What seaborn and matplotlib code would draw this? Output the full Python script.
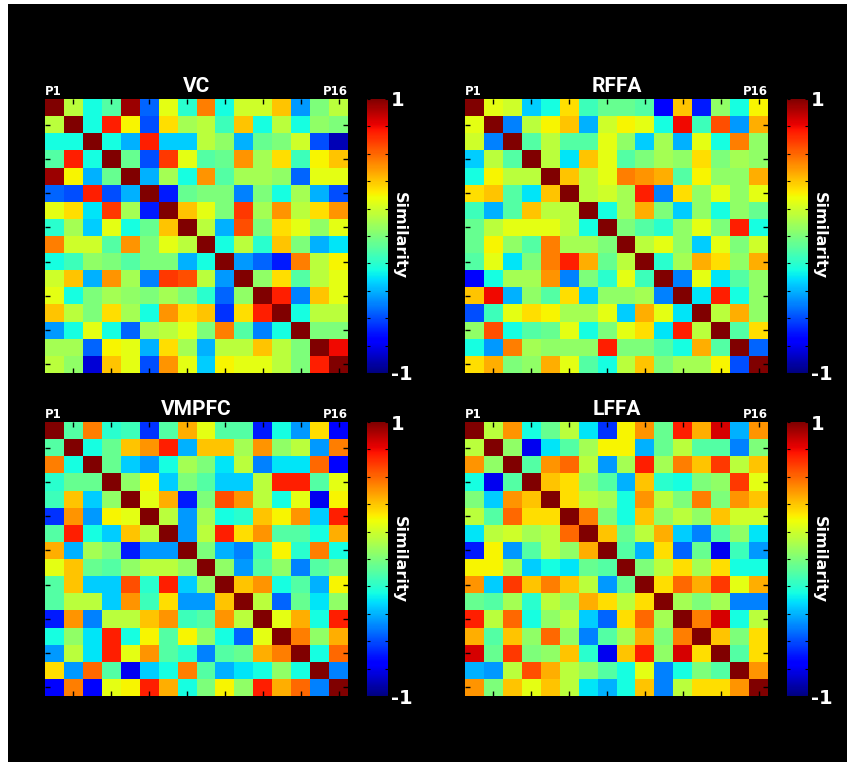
import numpy as np
import pandas as pd
import matplotlib
matplotlib.use("Agg")
import matplotlib.pyplot as plt
import seaborn as sns
from matplotlib.patches import Rectangle

participants = [f"P{i}" for i in range(1, 17)]
regions = ["VC", "RFFA", "VMPFC", "LFFA"]

vc = [
    [1, 0.15, -0.25, -0.1, 0.95, -0.55, 0.25, -0.2, 0.55, -0.25, 0.2, 0.2, 0.4, -0.45, 0.0, 0.15],
    [0.15, 1, -0.25, 0.75, 0.3, -0.6, 0.35, 0.1, 0.15, -0.15, 0.4, -0.25, 0.15, -0.25, 0.05, 0.0],
    [-0.25, -0.25, 1, -0.25, -0.4, 0.75, -0.35, -0.35, 0.15, 0.05, -0.4, -0.05, 0.0, 0.2, -0.6, -0.9],
    [-0.1, 0.75, -0.25, 1, -0.05, -0.6, 0.7, 0.25, -0.1, -0.05, 0.5, 0.1, 0.35, -0.15, 0.3, 0.4],
    [0.95, 0.3, -0.4, -0.05, 1, -0.4, 0.1, -0.25, 0.5, -0.1, 0.1, 0.1, 0.05, -0.55, 0.25, 0.25],
    [-0.55, -0.6, 0.75, -0.6, -0.4, 1, -0.7, -0.05, 0.0, 0.0, -0.5, 0.0, -0.25, 0.1, -0.4, -0.6],
    [0.25, 0.35, -0.3, 0.7, 0.1, -0.7, 1, 0.4, 0.25, 0.0, 0.7, 0.1, 0.5, 0.15, 0.35, 0.5],
    [-0.2, 0.1, -0.35, 0.25, -0.25, -0.05, 0.4, 1, 0.15, -0.4, 0.65, 0.0, 0.35, 0.25, 0.05, 0.25],
    [0.55, 0.2, 0.2, -0.1, 0.5, 0.0, 0.25, 0.15, 1, -0.25, 0.15, -0.2, 0.4, 0.0, -0.4, -0.3],
    [-0.25, -0.15, 0.05, 0.0, -0.1, 0.0, 0.0, -0.4, -0.25, 1, -0.45, -0.55, -0.7, 0.55, 0.15, 0.3],
    [0.2, 0.4, -0.4, 0.5, 0.1, -0.5, 0.7, 0.65, 0.15, -0.45, 1, 0.05, 0.35, -0.1, 0.15, 0.25],
    [0.25, -0.25, 0.0, 0.1, 0.05, 0.0, 0.1, 0.0, -0.2, -0.55, 0.05, 1, 0.75, -0.5, 0.4, 0.25],
    [0.4, 0.15, 0.0, 0.35, 0.1, -0.25, 0.5, 0.35, 0.4, -0.65, 0.35, 0.75, 1, -0.25, 0.15, 0.15],
    [-0.45, -0.25, 0.25, -0.25, -0.55, 0.1, 0.15, 0.25, 0.0, 0.55, -0.1, -0.5, -0.25, 1, 0.0, 0.0],
    [0.1, 0.1, -0.55, 0.3, 0.25, -0.4, 0.35, 0.1, -0.4, 0.15, 0.15, 0.4, 0.15, 0.0, 1, 0.8],
    [0.15, 0.05, -0.85, 0.4, 0.25, -0.6, 0.5, 0.25, -0.35, 0.3, 0.25, 0.25, 0.15, 0.0, 0.75, 1],
]

rffa = [
    [1, 0.25, 0.2, -0.35, -0.25, 0.35, -0.15, -0.05, -0.05, -0.1, -0.75, 0.4, -0.7, 0.05, -0.25, 0.3],
    [0.25, 1, -0.5, 0.15, 0.3, 0.4, -0.4, 0.2, 0.3, 0.25, -0.25, 0.8, -0.15, 0.65, -0.45, 0.45],
    [0.2, -0.5, 1, -0.1, 0.15, -0.1, -0.1, 0.25, 0.05, -0.35, 0.1, -0.4, 0.25, -0.25, 0.55, 0.05],
    [-0.35, 0.15, -0.1, 1, 0.15, -0.3, 0.4, 0.25, -0.1, 0.0, 0.1, 0.05, 0.35, 0.0, 0.1, 0.05],
    [-0.25, 0.3, 0.15, 0.15, 1, 0.4, 0.15, 0.25, 0.55, 0.5, 0.45, -0.1, 0.3, 0.05, 0.05, 0.45],
    [0.35, 0.4, -0.1, -0.3, 0.4, 1, 0.15, 0.2, 0.1, 0.75, -0.5, 0.35, 0.05, 0.25, 0.05, 0.25],
    [-0.15, -0.4, -0.1, 0.4, 0.15, 0.15, 1, -0.25, 0.1, 0.45, 0.0, -0.35, 0.05, -0.25, 0.05, -0.05],
    [-0.05, 0.15, 0.25, 0.25, 0.25, 0.15, -0.25, 1, 0.0, -0.1, -0.2, 0.05, 0.25, 0.0, 0.75, -0.25],
    [-0.05, 0.3, 0.05, -0.1, 0.55, 0.1, 0.1, 0.0, 1, 0.15, 0.25, 0.05, -0.35, 0.25, 0.0, 0.2],
    [-0.1, 0.25, -0.3, 0.0, 0.55, 0.75, 0.45, -0.05, 0.15, 1, -0.2, 0.1, 0.45, 0.35, 0.05, 0.45],
    [-0.75, -0.25, 0.1, 0.1, 0.5, -0.5, 0.0, -0.2, 0.25, -0.15, 1, -0.5, 0.25, -0.3, -0.1, 0.05],
    [0.4, 0.8, -0.4, 0.05, -0.1, 0.35, -0.35, 0.05, 0.05, 0.1, -0.5, 1, -0.3, 0.75, -0.25, 0.05],
    [-0.6, -0.15, 0.25, 0.35, 0.3, 0.1, 0.1, 0.25, -0.35, 0.45, 0.25, -0.3, 1, 0.15, 0.45, 0.05],
    [0.05, 0.65, -0.25, -0.1, -0.05, 0.25, -0.25, 0.0, 0.25, 0.35, -0.3, 0.75, 0.15, 1, -0.1, 0.35],
    [-0.25, -0.45, 0.55, 0.1, 0.05, 0.05, 0.05, 0.75, 0.0, 0.0, -0.1, -0.25, 0.45, -0.1, 1, -0.55],
    [0.35, 0.45, 0.0, 0.05, 0.45, 0.25, -0.1, -0.25, 0.15, 0.4, 0.0, 0.1, 0.1, 0.3, -0.6, 1],
]

vmpfc = [
    [1, -0.1, 0.55, -0.2, -0.15, -0.65, -0.1, 0.45, 0.25, -0.1, -0.1, -0.7, -0.25, -0.45, 0.35, -0.75],
    [-0.1, 1, -0.25, -0.05, 0.4, 0.5, 0.75, -0.4, 0.4, 0.4, 0.1, 0.5, 0.05, 0.15, -0.45, 0.55],
    [0.55, -0.25, 1, -0.05, -0.35, -0.45, -0.25, 0.1, 0.0, -0.3, 0.15, -0.5, -0.3, -0.3, 0.6, -0.75],
    [-0.2, -0.05, -0.05, 1, 0.05, 0.3, -0.35, 0.0, -0.1, -0.35, -0.35, 0.15, 0.75, 0.75, -0.1, 0.25],
    [-0.15, 0.4, -0.35, 0.05, 1, 0.25, 0.45, -0.7, 0.0, 0.65, 0.5, 0.15, -0.25, 0.25, -0.8, 0.3],
    [-0.65, 0.5, -0.45, 0.3, 0.25, 1, 0.15, -0.45, 0.1, -0.25, -0.2, 0.4, 0.3, 0.5, -0.35, 0.75],
    [-0.1, 0.75, -0.25, -0.35, 0.4, 0.15, 1, -0.45, 0.15, 0.75, 0.35, 0.5, -0.1, -0.1, -0.25, 0.45],
    [0.45, -0.4, 0.1, 0.0, -0.7, -0.45, -0.45, 1, 0.0, -0.4, -0.5, -0.15, 0.3, -0.2, 0.55, -0.25],
    [0.25, 0.4, -0.05, -0.1, 0.05, 0.15, 0.15, 0.05, 1, 0.05, -0.45, -0.1, 0.05, -0.5, -0.1, 0.0],
    [-0.1, 0.4, -0.35, -0.35, 0.65, -0.2, 0.75, -0.35, 0.05, 1, 0.4, 0.5, -0.25, -0.1, -0.4, 0.3],
    [-0.1, 0.15, 0.15, -0.35, 0.5, -0.15, 0.35, -0.45, -0.45, 0.4, 1, 0.15, -0.55, -0.05, -0.3, 0.05],
    [-0.7, 0.5, -0.5, 0.15, 0.15, 0.4, 0.5, -0.15, -0.1, 0.5, 0.15, 1, 0.25, 0.45, -0.25, 0.75],
    [-0.25, 0.05, -0.3, 0.75, -0.25, 0.3, -0.1, 0.3, 0.05, -0.25, -0.55, 0.25, 1, 0.55, 0.05, 0.45],
    [-0.45, 0.15, -0.3, 0.75, 0.25, 0.5, -0.1, -0.2, -0.5, -0.1, -0.05, 0.45, 0.55, 1, -0.25, 0.6],
    [0.35, -0.45, 0.6, -0.1, -0.8, -0.35, -0.25, 0.55, -0.1, -0.4, -0.3, -0.25, 0.05, -0.25, 1, -0.5],
    [-0.75, 0.55, -0.75, 0.25, 0.3, 0.75, 0.45, -0.25, 0.0, 0.3, 0.05, 0.75, 0.45, 0.6, -0.5, 1],
]

lffa = [
    [1, 0.15, 0.5, -0.25, -0.05, 0.15, -0.3, -0.65, 0.3, 0.5, -0.05, 0.75, 0.45, 0.85, -0.4, 0.5],
    [0.15, 1, 0.05, -0.8, -0.3, -0.1, 0.1, 0.3, 0.3, -0.4, -0.05, 0.15, -0.1, -0.1, -0.5, 0.0],
    [0.5, 0.05, 1, -0.1, 0.5, 0.6, 0.15, -0.45, 0.1, 0.75, 0.1, 0.55, 0.4, 0.7, 0.15, 0.4],
    [-0.25, -0.8, -0.1, 1, 0.4, 0.35, 0.05, -0.1, -0.4, 0.4, -0.2, -0.25, 0.0, 0.05, 0.7, 0.25],
    [0.0, -0.35, 0.5, 0.4, 1, 0.35, 0.15, 0.1, -0.25, 0.5, 0.15, 0.0, 0.55, 0.0, 0.5, 0.4],
    [0.15, -0.1, 0.6, 0.35, 0.35, 1, 0.55, 0.0, -0.25, 0.4, 0.05, 0.15, 0.05, 0.4, 0.2, 0.2],
    [-0.3, 0.15, 0.2, 0.1, 0.15, 0.6, 1, 0.4, -0.05, 0.15, 0.45, -0.35, -0.5, -0.1, 0.05, -0.3],
    [-0.7, 0.3, -0.45, -0.1, 0.15, 0.05, 0.45, 1, -0.1, -0.4, 0.35, -0.55, -0.05, -0.8, -0.15, -0.45],
    [0.3, 0.3, 0.1, -0.35, -0.25, -0.3, -0.05, -0.1, 1, 0.0, 0.15, 0.35, 0.1, 0.35, -0.25, -0.25],
    [0.5, -0.35, 0.7, 0.4, 0.55, 0.4, 0.15, -0.45, -0.05, 1, 0.35, 0.6, 0.45, 0.7, 0.25, 0.45],
    [-0.05, -0.1, 0.1, -0.2, 0.15, 0.05, 0.45, 0.35, 0.15, 0.35, 1, 0.1, 0.0, 0.1, -0.5, -0.5],
    [0.75, 0.15, 0.6, -0.25, 0.05, 0.15, -0.35, -0.55, 0.35, 0.6, 0.1, 1, 0.55, 0.85, -0.25, 0.15],
    [0.45, -0.1, 0.4, 0.05, 0.6, 0.05, -0.5, -0.1, 0.1, 0.45, 0.0, 0.55, 1, 0.4, 0.0, 0.35],
    [0.85, -0.05, 0.7, 0.0, 0.05, 0.4, -0.2, -0.8, 0.4, 0.75, 0.05, 0.85, 0.35, 1, -0.1, 0.35],
    [-0.4, -0.45, 0.15, 0.65, 0.45, 0.15, 0.05, -0.1, -0.25, 0.25, -0.5, -0.25, 0.0, -0.1, 1, 0.5],
    [0.5, 0.0, 0.4, 0.25, 0.4, 0.15, -0.3, -0.4, -0.25, 0.4, -0.5, 0.15, 0.35, 0.35, 0.5, 1],
]

matrices = [vc, rffa, vmpfc, lffa]
cbar_ticks = [-1, -0.8, -0.6, -0.4, -0.2, 0, 0.2, 0.4, 0.6, 0.8, 1]
cbar_ticklabels = ["-1", "", "", "", "", "", "", "", "", "", "1"]

W, H = 847, 762
plt.rcParams["font.family"] = ["DejaVu Sans"]
fig = plt.figure(figsize=(W / 100, H / 100), dpi=100, facecolor="white")
fig.patches.append(Rectangle((8 / W, 0), 1 - 8 / W, 1 - 4 / H, transform=fig.transFigure,
                             facecolor="black", edgecolor="none", zorder=-10))

hw, hh = 303, 274
cb_off, cb_w = 322, 21
origins = [(45, 99), (465, 99), (45, 422), (465, 422)]

for name, mat, (l, t) in zip(regions, matrices, origins):
    ax = fig.add_axes([l / W, 1 - (t + hh) / H, hw / W, hh / H])
    cax = fig.add_axes([(l + cb_off) / W, 1 - (t + hh) / H, cb_w / W, hh / H])
    df = pd.DataFrame(mat, index=participants, columns=participants)
    sns.heatmap(df, ax=ax, cbar_ax=cax, cmap="jet", vmin=-1, vmax=1,
                xticklabels=False, yticklabels=False)
    ax.set_facecolor("black")
    ax.set_xticks(np.arange(1.5, 16, 2))
    ax.set_yticks(np.arange(1.5, 16, 2))
    ax.tick_params(direction="in", length=3.5, width=1, color="black",
                   top=True, right=True, bottom=True, left=True,
                   labelbottom=False, labelleft=False)
    ax.set_xlabel("")
    ax.set_ylabel("")
    ax.set_title(name, color="white", fontsize=15, fontweight="bold", pad=5,
                 family=["Roboto", "DejaVu Sans"])
    ax.annotate("P1", xy=(0, 1), xycoords="axes fraction", xytext=(0, 3),
                textcoords="offset points", ha="left", va="baseline",
                color="white", fontsize=8.5, fontweight="bold")
    ax.annotate("P16", xy=(1, 1), xycoords="axes fraction", xytext=(0, 3),
                textcoords="offset points", ha="right", va="baseline",
                color="white", fontsize=8.5, fontweight="bold")

    cb = ax.collections[0].colorbar
    cb.set_ticks(cbar_ticks)
    cb.set_ticklabels(cbar_ticklabels)
    cb.outline.set_visible(False)
    cax.tick_params(direction="in", length=2.5, width=0.8, color="black",
                    left=True, right=True, labelleft=False, labelright=True,
                    labelcolor="white", labelsize=14, pad=2)
    for tl in cax.get_yticklabels():
        tl.set_fontweight("bold")
    cax.text(1.55, 0.5, "Similarity", transform=cax.transAxes, rotation=270,
             ha="center", va="center", color="white", fontsize=11.5,
             fontweight="bold")

fig.savefig("out.png", dpi=100, facecolor=fig.get_facecolor())
